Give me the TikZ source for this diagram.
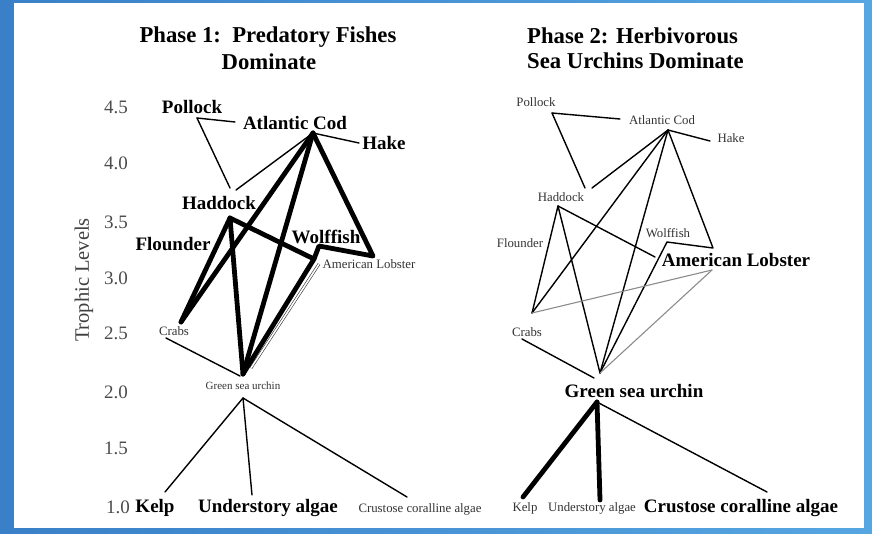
\documentclass[tikz,border=0pt]{standalone}
\usepackage{fontspec}
\setmainfont{Liberation Serif}
\begin{document}
\begin{tikzpicture}[x=1pt,y=-1pt,
  ttl/.style={font=\fontsize{22.7}{26}\selectfont\bfseries, inner sep=0pt},
  bigl/.style={font=\fontsize{19}{21}\selectfont\bfseries, inner sep=0pt},
  smalll/.style={font=\fontsize{12.8}{14}\selectfont, inner sep=0pt, text=black!80},
  tinyl/.style={font=\fontsize{11}{12}\selectfont, inner sep=0pt, text=black!80},
  axisnum/.style={font=\fontsize{19}{21}\selectfont, inner sep=0pt, text=black!70},
  thinlink/.style={draw=black, line width=1.4pt, line cap=round},
  thicklink/.style={draw=black, line width=4.8pt, line cap=round, line join=round},
  greylink/.style={draw=black!45, line width=1.1pt, line cap=round},
  duallink/.style={draw=black!80, line width=0.6pt, double=white, double distance=1.6pt}
]
\useasboundingbox (0,0) rectangle (872,533);
\shade[left color={rgb,255:red,58;green,128;blue,200}, right color={rgb,255:red,86;green,166;blue,226}] (0,0) rectangle (872,533);
\fill[white] (14,3) rectangle (864,528);

% ---------- Titles ----------
\node[ttl] (t1a) at (268,37) {Phase 1:\ \ Predatory Fishes};
\node[ttl] (t1b) at (269,62) {Dominate};
\node[ttl, anchor=west] (t2a) at (527,36) {Phase 2: Herbivorous};
\node[ttl, anchor=west] (t2b) at (527,61) {Sea Urchins Dominate};

% ---------- Axis ----------
\node[font=\fontsize{20.5}{22}\selectfont, inner sep=0pt, text=black!75, rotate=90] (ylab) at (84,280) {Trophic Levels};
\node[axisnum] (n45) at (116,107) {4.5};
\node[axisnum] (n40) at (116,163) {4.0};
\node[axisnum] (n35) at (116,222) {3.5};
\node[axisnum] (n30) at (116,278) {3.0};
\node[axisnum] (n25) at (116,333) {2.5};
\node[axisnum] (n20) at (116,392) {2.0};
\node[axisnum] (n15) at (116,448) {1.5};
\node[axisnum] (n10) at (118,507) {1.0};

% ---------- Phase 1 labels ----------
\node[bigl] (a-Lpol) at (192,107) {Pollock};
\node[bigl] (a-Lcod) at (295,123) {Atlantic Cod};
\node[bigl] (a-Lhake) at (384,143) {Hake};
\node[bigl] (a-Lhad) at (219,203) {Haddock};
\node[bigl] (a-Lflo) at (173,244) {Flounder};
\node[bigl] (a-Lwolf) at (326,237) {Wolffish};
\node[smalll] (a-Llob) at (369,264) {American Lobster};
\node[smalll] (a-Lcrab) at (174,331) {Crabs};
\node[tinyl] (a-Lurch) at (243,386) {Green sea urchin};
\node[bigl] (a-Lkelp) at (155,508) {Kelp};
\node[bigl] (a-Lund) at (268,508) {Understory algae};
\node[smalll] (a-Lcru) at (420,509) {Crustose coralline algae};

% ---------- Phase 1 junctions ----------
\coordinate (a-pol) at (197,118);
\coordinate (a-codL) at (235,122);
\coordinate (a-cod) at (313,133);
\coordinate (a-hake) at (359,143);
\coordinate (a-hadT) at (230,188);
\coordinate (a-hadT2) at (236,190);
\coordinate (a-had) at (230,218);
\coordinate (a-crab) at (181,322);
\coordinate (a-urch) at (243,374);
\coordinate (a-lob) at (314,259);
\coordinate (a-wolf) at (319,246);
\coordinate (a-cor) at (373,256);
\coordinate (a-lobD) at (319,264);
\coordinate (a-urchD) at (251,368);
\coordinate (a-crabL) at (166,338);
\coordinate (a-urchL) at (240,376);
\coordinate (a-urchB) at (243,398);
\coordinate (a-kelp) at (165,492);
\coordinate (a-und) at (252,495);
\coordinate (a-cru) at (407,497);

% ---------- Phase 1 links ----------
\draw[thinlink] (a-pol) -- (a-codL);
\draw[thinlink] (a-pol) -- (a-hadT);
\draw[thinlink] (a-hadT2) -- (a-cod);
\draw[thinlink] (a-cod) -- (a-hake);
\draw[duallink] (a-lobD) -- (a-urchD);
\draw[thinlink] (a-crabL) -- (a-urchL);
\draw[thicklink] (a-crab) -- (a-cod);
\draw[thicklink] (a-crab) -- (a-had);
\draw[thicklink] (a-had) -- (a-urch);
\draw[thicklink] (a-had) -- (a-lob);
\draw[thicklink] (a-cod) -- (a-urch);
\draw[thicklink] (a-cod) -- (a-cor) -- (a-wolf) -- (a-lob) -- (a-urch);
\draw[thinlink] (a-urchB) -- (a-kelp);
\draw[thinlink] (a-urchB) -- (a-und);
\draw[thinlink] (a-urchB) -- (a-cru);

% ---------- Phase 2 labels ----------
\node[smalll] (b-Lpol) at (536,102) {Pollock};
\node[smalll] (b-Lcod) at (662,120) {Atlantic Cod};
\node[smalll] (b-Lhake) at (731,138) {Hake};
\node[smalll] (b-Lhad) at (561,197) {Haddock};
\node[smalll] (b-Lflo) at (520,243) {Flounder};
\node[smalll] (b-Lwolf) at (668,233) {Wolffish};
\node[bigl] (b-Llob) at (736,260) {American Lobster};
\node[smalll] (b-Lcrab) at (527,332) {Crabs};
\node[bigl] (b-Lurch) at (634,391) {Green sea urchin};
\node[smalll] (b-Lkelp) at (525,508) {Kelp};
\node[smalll] (b-Lund) at (592,508) {Understory algae};
\node[bigl] (b-Lcru) at (741,508) {Crustose coralline algae};

% ---------- Phase 2 junctions ----------
\coordinate (b-pol) at (552,113);
\coordinate (b-codL) at (620,119);
\coordinate (b-cod) at (668,130);
\coordinate (b-hake) at (710,141);
\coordinate (b-hadT) at (585,188);
\coordinate (b-hadT2) at (592,188);
\coordinate (b-had) at (558,206);
\coordinate (b-crab) at (532,313);
\coordinate (b-urch) at (600,373);
\coordinate (b-lobL) at (655,257);
\coordinate (b-wolf) at (667,242);
\coordinate (b-cor) at (713,248);
\coordinate (b-lobR) at (712,270);
\coordinate (b-crabL) at (522,339);
\coordinate (b-urchL) at (594,378);
\coordinate (b-urchB) at (597,402);
\coordinate (b-kelp) at (523,497);
\coordinate (b-und) at (600,500);
\coordinate (b-cru) at (767,492);

% ---------- Phase 2 links ----------
\draw[thinlink] (b-pol) -- (b-codL);
\draw[thinlink] (b-pol) -- (b-hadT);
\draw[thinlink] (b-hadT2) -- (b-cod);
\draw[thinlink] (b-cod) -- (b-hake);
\draw[thinlink] (b-cod) -- (b-crab);
\draw[thinlink] (b-cod) -- (b-urch);
\draw[thinlink, line join=round] (b-cod) -- (b-cor) -- (b-wolf) -- (b-urch);
\draw[thinlink] (b-had) -- (b-lobL);
\draw[thinlink] (b-had) -- (b-crab);
\draw[thinlink] (b-had) -- (b-urch);
\draw[greylink] (b-crab) -- (b-lobR);
\draw[greylink] (b-urch) -- (b-lobR);
\draw[thinlink] (b-crabL) -- (b-urchL);
\draw[thicklink] (b-urchB) -- (b-kelp);
\draw[thicklink] (b-urchB) -- (b-und);
\draw[thinlink] (b-urchB) -- (b-cru);
\end{tikzpicture}
\end{document}
